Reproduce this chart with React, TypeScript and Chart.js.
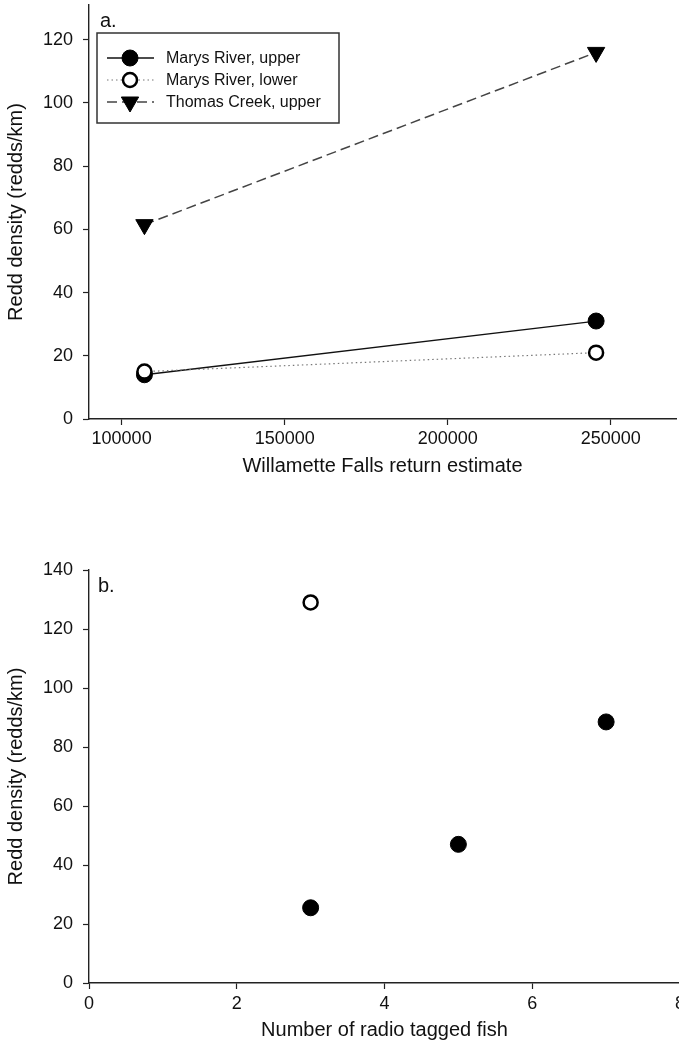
import { useEffect, useRef } from "react";
import { Chart, registerables } from "chart.js";

Chart.register(...registerables);

const FONT = "'Liberation Sans', Arial, Helvetica, sans-serif";
const INK = "#111";
const AXIS = "#222";

// Panel a: redd density vs. Willamette Falls return estimate
const RETURN_ESTIMATES = [107000, 245500];
const MARYS_UPPER = [14, 31];
const MARYS_LOWER = [15, 21];
const THOMAS_UPPER = [61.5, 116];
const SERIES_LABELS = ["Marys River, upper", "Marys River, lower", "Thomas Creek, upper"];
const A_X_TICKS = [100000, 150000, 200000, 250000];
const A_Y_TICKS = [0, 20, 40, 60, 80, 100, 120];

// Panel b: redd density vs. number of radio tagged fish
const TAGGED_FILLED = [3, 5, 7];
const DENSITY_FILLED = [25.5, 47, 88.5];
const TAGGED_OPEN = [3];
const DENSITY_OPEN = [129];
const B_X_TICKS = [0, 2, 4, 6, 8];
const B_Y_TICKS = [0, 20, 40, 60, 80, 100, 120, 140];

const toPoints = (xs: number[], ys: number[]) => xs.map((x, i) => ({ x, y: ys[i] }));

function drawMarker(
  ctx: CanvasRenderingContext2D,
  style: string,
  x: number,
  y: number,
  r: number,
  fill: string,
  stroke: string,
  width: number
) {
  ctx.save();
  ctx.setLineDash([]);
  ctx.beginPath();
  if (style === "triangle") {
    // downward-pointing triangle
    const a = Math.PI;
    for (let k = 0; k < 3; k++) {
      const ang = a + (k * 2 * Math.PI) / 3;
      const px = x + Math.sin(ang) * r;
      const py = y - Math.cos(ang) * r;
      if (k === 0) ctx.moveTo(px, py);
      else ctx.lineTo(px, py);
    }
    ctx.closePath();
  } else {
    ctx.arc(x, y, r, 0, Math.PI * 2);
  }
  ctx.fillStyle = fill;
  ctx.fill();
  ctx.lineWidth = width;
  ctx.strokeStyle = stroke;
  ctx.stroke();
  ctx.restore();
}

const panelLabel = {
  id: "panelLabel",
  afterDraw(chart: any, _args: any, opts: any) {
    const { ctx, chartArea } = chart;
    ctx.save();
    ctx.font = `20px ${FONT}`;
    ctx.fillStyle = INK;
    ctx.textBaseline = "middle";
    ctx.textAlign = "left";
    ctx.fillText(opts.text, chartArea.left + opts.dx, chartArea.top + opts.dy);
    ctx.restore();
  },
};

const boxLegend = {
  id: "boxLegend",
  afterDatasetsDraw(chart: any, _args: any, opts: any) {
    if (!opts || !opts.show) return;
    const { ctx, chartArea } = chart;
    const bx = chartArea.left + 8;
    const by = chartArea.top + 28;
    const bw = 242;
    const bh = 90;
    ctx.save();
    ctx.fillStyle = "#fff";
    ctx.fillRect(bx, by, bw, bh);
    ctx.strokeStyle = "#333";
    ctx.lineWidth = 1.5;
    ctx.strokeRect(bx, by, bw, bh);
    chart.data.datasets.forEach((ds: any, row: number) => {
      const y = by + 25 + row * 22;
      ctx.save();
      ctx.setLineDash(ds.borderDash || []);
      ctx.strokeStyle = ds.borderColor;
      ctx.lineWidth = ds.borderWidth;
      ctx.beginPath();
      ctx.moveTo(bx + 10, y);
      ctx.lineTo(bx + 57, y);
      ctx.stroke();
      ctx.restore();
      drawMarker(
        ctx,
        ds.pointStyle,
        bx + 33,
        y,
        ds.pointRadius,
        ds.pointBackgroundColor,
        ds.pointBorderColor,
        ds.pointBorderWidth
      );
      ctx.font = `16px ${FONT}`;
      ctx.fillStyle = INK;
      ctx.textBaseline = "middle";
      ctx.textAlign = "left";
      ctx.fillText(ds.label, bx + 69, y + 1);
    });
    ctx.restore();
  },
};

function linearAxis(
  min: number,
  max: number,
  tickValues: number[],
  title: string,
  horizontal: boolean,
  fit: number,
  titlePad: number,
  labelPad: number
) {
  return {
    type: "linear" as const,
    position: horizontal ? ("bottom" as const) : ("left" as const),
    min,
    max,
    afterBuildTicks: (axis: any) => {
      axis.ticks = tickValues.map((v) => ({ value: v }));
    },
    afterFit: (axis: any) => {
      if (horizontal) axis.height = fit;
      else axis.width = fit;
      // keep the plot area fixed; labels may overhang freely
      axis.paddingLeft = 0;
      axis.paddingRight = 0;
      axis.paddingTop = 0;
      axis.paddingBottom = 0;
    },
    grid: {
      display: true,
      drawOnChartArea: false,
      drawTicks: true,
      tickLength: 6,
      tickColor: AXIS,
      tickWidth: 1.2,
    },
    border: { display: true, color: AXIS, width: 1.4 },
    ticks: {
      color: INK,
      font: { family: FONT, size: 18 },
      padding: labelPad,
      maxRotation: 0,
      autoSkip: false,
      callback: (v: any) => String(v),
    },
    title: {
      display: true,
      text: title,
      color: INK,
      font: { family: FONT, size: 20 },
      padding: horizontal ? { top: 0, bottom: titlePad } : { top: titlePad, bottom: 0 },
    },
  };
}

function PanelA() {
  const ref = useRef<HTMLCanvasElement | null>(null);
  useEffect(() => {
    if (!ref.current) return;
    const chart = new Chart(ref.current, {
      type: "scatter",
      data: {
        datasets: [
          {
            label: SERIES_LABELS[0],
            data: toPoints(RETURN_ESTIMATES, MARYS_UPPER),
            showLine: true,
            borderColor: "#111",
            borderWidth: 1.3,
            borderDash: [],
            pointStyle: "circle",
            pointRadius: 8,
            pointBackgroundColor: "#000",
            pointBorderColor: "#000",
            pointBorderWidth: 1,
            order: 2,
          },
          {
            label: SERIES_LABELS[1],
            data: toPoints(RETURN_ESTIMATES, MARYS_LOWER),
            showLine: true,
            borderColor: "#777",
            borderWidth: 1.2,
            borderDash: [1.5, 3],
            pointStyle: "circle",
            pointRadius: 7,
            pointBackgroundColor: "#fff",
            pointBorderColor: "#000",
            pointBorderWidth: 2.5,
            order: 1,
          },
          {
            label: SERIES_LABELS[2],
            data: toPoints(RETURN_ESTIMATES, THOMAS_UPPER),
            showLine: true,
            borderColor: "#444",
            borderWidth: 1.5,
            borderDash: [10, 5],
            pointStyle: "triangle",
            pointRotation: 180,
            pointRadius: 10,
            pointBackgroundColor: "#000",
            pointBorderColor: "#000",
            pointBorderWidth: 1,
            order: 3,
          },
        ] as any,
      },
      options: {
        animation: false,
        responsive: false,
        maintainAspectRatio: false,
        devicePixelRatio: 1,
        layout: { autoPadding: false, padding: { top: 5, right: 3, left: 0, bottom: 0 } },
        plugins: {
          legend: { display: false },
          tooltip: { enabled: false },
          panelLabel: { text: "a.", dx: 11, dy: 16 },
          boxLegend: { show: true },
        } as any,
        scales: {
          x: linearAxis(90000, 270000, A_X_TICKS, "Willamette Falls return estimate", true, 81, 22, 3),
          y: linearAxis(0, 131, A_Y_TICKS, "Redd density (redds/km)", false, 89, 4, 10),
        },
      },
      plugins: [panelLabel, boxLegend],
    });
    return () => chart.destroy();
  }, []);
  return (
    <canvas
      ref={ref}
      width={679}
      height={500}
      style={{ position: "absolute", left: 0, top: 0, width: 679, height: 500, display: "block" }}
    />
  );
}

function PanelB() {
  const ref = useRef<HTMLCanvasElement | null>(null);
  useEffect(() => {
    if (!ref.current) return;
    const chart = new Chart(ref.current, {
      type: "scatter",
      data: {
        datasets: [
          {
            label: "filled",
            data: toPoints(TAGGED_FILLED, DENSITY_FILLED),
            pointStyle: "circle",
            pointRadius: 8,
            pointBackgroundColor: "#000",
            pointBorderColor: "#000",
            pointBorderWidth: 1,
          },
          {
            label: "open",
            data: toPoints(TAGGED_OPEN, DENSITY_OPEN),
            pointStyle: "circle",
            pointRadius: 7,
            pointBackgroundColor: "#fff",
            pointBorderColor: "#000",
            pointBorderWidth: 2.5,
          },
        ] as any,
      },
      options: {
        animation: false,
        responsive: false,
        maintainAspectRatio: false,
        devicePixelRatio: 1,
        layout: { autoPadding: false, padding: { top: 70, right: 40, left: 0, bottom: 0 } },
        plugins: {
          legend: { display: false },
          tooltip: { enabled: false },
          panelLabel: { text: "b.", dx: 9, dy: 16 },
          boxLegend: { show: false },
        } as any,
        scales: {
          x: linearAxis(0, 8, B_X_TICKS, "Number of radio tagged fish", true, 76, 17, 4),
          y: linearAxis(0, 140, B_Y_TICKS, "Redd density (redds/km)", false, 89, 4, 10),
        },
      },
      plugins: [panelLabel, boxLegend],
    });
    return () => chart.destroy();
  }, []);
  return (
    <canvas
      ref={ref}
      width={720}
      height={559}
      style={{ position: "absolute", left: 0, top: 500, width: 720, height: 559, display: "block" }}
    />
  );
}

export default function App() {
  return (
    <div
      style={{
        position: "absolute",
        left: 0,
        top: 0,
        width: 679,
        height: 1059,
        overflow: "hidden",
        background: "#fff",
      }}
    >
      <PanelA />
      <PanelB />
    </div>
  );
}
